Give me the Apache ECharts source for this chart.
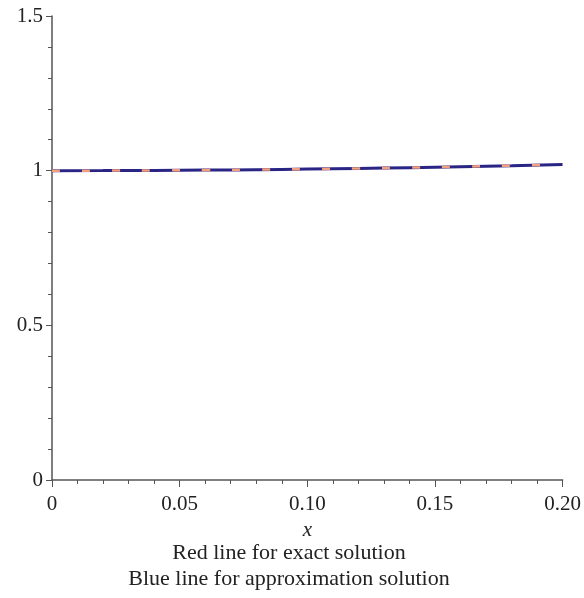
<!DOCTYPE html>
<html>
<head>
<meta charset="utf-8">
<script src="https://cdn.jsdelivr.net/npm/echarts@6/dist/echarts.min.js"></script>
<style>
  html, body { margin: 0; padding: 0; background: #fff; }
  #chart { width: 584px; height: 598px; }
</style>
</head>
<body>
<div id="chart"></div>
<script>
// Values
const xValues = [0, 0.02, 0.04, 0.06, 0.08, 0.10, 0.12, 0.14, 0.16, 0.18, 0.20];
const exactValues = [1, 1.0002, 1.0008, 1.0018, 1.0032, 1.005, 1.0072, 1.0098, 1.0128, 1.0162, 1.0201];
const approxValues = [1, 1.0002, 1.0008, 1.0018, 1.0032, 1.005, 1.0072, 1.0098, 1.0128, 1.0162, 1.0201];
const xTickLabels = {0: '0', 0.05: '0.05', 0.1: '0.10', 0.15: '0.15', 0.2: '0.20'};
const yTickLabels = {0: '0', 0.5: '0.5', 1: '1', 1.5: '1.5'};
const captionLines = ['Red line for exact solution', 'Blue line for approximation solution'];

const chart = echarts.init(document.getElementById('chart'));

function pairs(ys) {
  const out = [];
  for (let i = 0; i < xValues.length; i++) {
    out.push([xValues[i], ys[i]]);
  }
  return out;
}

const font = '"Liberation Serif", "Times New Roman", serif';
const axisColor = '#555';
const textColor = '#222';

const option = {
  animation: false,
  textStyle: { fontFamily: font },
  grid: { left: 52, right: 20, top: 16, bottom: 118 },
  title: {
    text: captionLines.join('\n'),
    left: 284,
    textAlign: 'center',
    top: 535,
    textStyle: { fontFamily: font, fontSize: 22, fontWeight: 'normal', color: textColor, lineHeight: 26 }
  },
  xAxis: {
    type: 'value',
    min: 0,
    max: 0.2,
    interval: 0.05,
    name: 'x',
    nameLocation: 'middle',
    nameGap: 40,
    nameTextStyle: { fontFamily: font, fontSize: 21, fontStyle: 'italic', color: textColor },
    axisLine: { lineStyle: { color: axisColor, width: 1.5 } },
    axisTick: { length: 7, lineStyle: { color: axisColor } },
    minorTick: { show: true, splitNumber: 5, length: 4, lineStyle: { color: axisColor } },
    splitLine: { show: false },
    axisLabel: {
      fontFamily: font, fontSize: 21, color: textColor, margin: 14,
      formatter: v => xTickLabels[Math.round(v * 100) / 100]
    }
  },
  yAxis: {
    type: 'value',
    min: 0,
    max: 1.5,
    interval: 0.5,
    axisLine: { show: true, lineStyle: { color: axisColor, width: 1.5 } },
    axisTick: { show: true, length: 6, lineStyle: { color: axisColor } },
    minorTick: { show: true, splitNumber: 5, length: 4, lineStyle: { color: axisColor } },
    splitLine: { show: false },
    axisLabel: {
      fontFamily: font, fontSize: 21, color: textColor, margin: 9,
      formatter: v => yTickLabels[Math.round(v * 10) / 10]
    }
  },
  series: [{
    name: 'approximation',
    type: 'line',
    data: pairs(approxValues),
    showSymbol: false,
    smooth: true,
    lineStyle: { color: '#2a2585', width: 3 }
  }, {
    name: 'exact',
    type: 'line',
    data: pairs(exactValues),
    showSymbol: false,
    smooth: true,
    lineStyle: { color: '#f2a07e', width: 2.5, type: [8, 22] }
  }]
};

chart.setOption(option);
</script>
</body>
</html>
